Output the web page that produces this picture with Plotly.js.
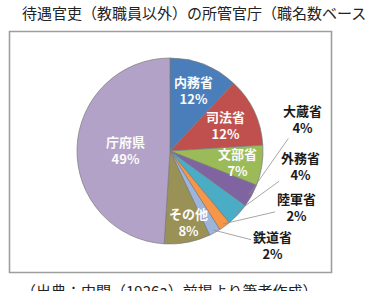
<!DOCTYPE html>
<html>
<head>
<meta charset="utf-8">
<script src="https://cdn.plot.ly/plotly-3.0.1.min.js"></script>
<style>html,body{margin:0;padding:0;background:#fff;}#chart{width:365px;height:291px;}</style>
</head>
<body>
<div id="chart"></div>
<script>
// ---- data ----
const labels = ['内務省','司法省','文部省','大蔵省','外務省','陸軍省','鉄道省','その他','庁府県'];
const values = [12, 12, 7, 4, 4, 2, 2, 8, 49];
const colors = ['#4A7EBB','#C0504D','#9BBB59','#8064A2','#4BACC6','#F79646','#9DB4DB','#9A9157','#B3A2C7'];
const outsideLabels = ['大蔵省','外務省','陸軍省','鉄道省'];
const titleText = '待遇官吏（教職員以外）の所管官庁（職名数ベース）';
const sourceText = '（出典：内閣（1926a）前掲より筆者作成）';

// ---- layout constants (pixels) ----
const W = 365, H = 291;
const CX = 170, CY = 151, R = 93;
// outside label centres (pixels)
const outsidePos = {
  '大蔵省': [302, 119],
  '外務省': [300, 166],
  '陸軍省': [296, 207],
  '鉄道省': [272, 245]
};
// inside label placement: radius fraction and angular nudge (deg)
const insidePlace = {
  '内務省': [0.70, 0],
  '司法省': [0.66, 0],
  '文部省': [0.735, 0],
  'その他': [0.79, -4],
  '庁府県': [0.48, 0]
};
const FONT = '"Noto Sans CJK JP", "Noto Sans", sans-serif';

const total = values.reduce((a, b) => a + b, 0);

const trace = {
  type: 'pie',
  labels: labels,
  values: values,
  sort: false,
  direction: 'clockwise',
  rotation: 0,
  marker: {colors: colors, line: {color: '#7a7a7a', width: 0.7}},
  textinfo: 'none',
  hoverinfo: 'none',
  showlegend: false,
  domain: {x: [(CX - R) / W, (CX + R) / W], y: [(H - CY - R) / H, (H - CY + R) / H]}
};

const annotations = [];
let cum = 0;
labels.forEach((l, i) => {
  const mid = (cum + values[i] / 2) / total;
  cum += values[i];
  const pct = Math.round(values[i] / total * 100) + '%';
  if (outsideLabels.includes(l)) {
    const th = 2 * Math.PI * mid;
    const tx = CX + R * 0.97 * Math.sin(th);
    const ty = CY - R * 0.97 * Math.cos(th);
    const [lx, ly] = outsidePos[l];
    annotations.push({
      xref: 'paper', yref: 'paper', x: tx / W, y: (H - ty) / H,
      ax: lx - tx, ay: ly - ty,
      text: l + '<br>' + pct,
      showarrow: true, arrowhead: 0, arrowwidth: 0.8, arrowcolor: '#8f8f8f', standoff: 0,
      font: {family: FONT, size: 13, color: '#1a1a1a', weight: 'bold'},
      align: 'center'
    });
  } else {
    const [rf, dAng] = insidePlace[l];
    const th = 2 * Math.PI * mid + dAng * Math.PI / 180;
    const px = CX + R * rf * Math.sin(th);
    const py = CY - R * rf * Math.cos(th);
    annotations.push({
      xref: 'paper', yref: 'paper', x: px / W, y: (H - py) / H,
      xanchor: 'center', yanchor: 'middle', showarrow: false,
      text: l + '<br>' + pct,
      font: {family: FONT, size: 13, color: '#fbfbfb', weight: 'bold'},
      align: 'center'
    });
  }
});

annotations.push({
  xref: 'paper', yref: 'paper', x: 20 / W, y: (H - 13) / H,
  xanchor: 'left', yanchor: 'middle', showarrow: false,
  text: titleText, font: {family: FONT, size: 15, color: '#222222'}
});
annotations.push({
  xref: 'paper', yref: 'paper', x: 169 / W, y: (H - 290) / H,
  xanchor: 'center', yanchor: 'middle', showarrow: false,
  text: sourceText, font: {family: FONT, size: 15, color: '#222222'}
});

const layout = {
  width: W, height: H,
  margin: {l: 0, r: 0, t: 0, b: 0},
  paper_bgcolor: '#ffffff',
  shapes: [{
    type: 'rect', xref: 'paper', yref: 'paper',
    x0: 9.5 / W, x1: 331.5 / W, y0: (H - 272.5) / H, y1: (H - 31.5) / H,
    line: {color: '#9e9e9e', width: 1.6}, fillcolor: 'rgba(0,0,0,0)', layer: 'below'
  }],
  annotations: annotations
};

Plotly.newPlot('chart', [trace], layout, {staticPlot: true, displayModeBar: false});
</script>
</body>
</html>
